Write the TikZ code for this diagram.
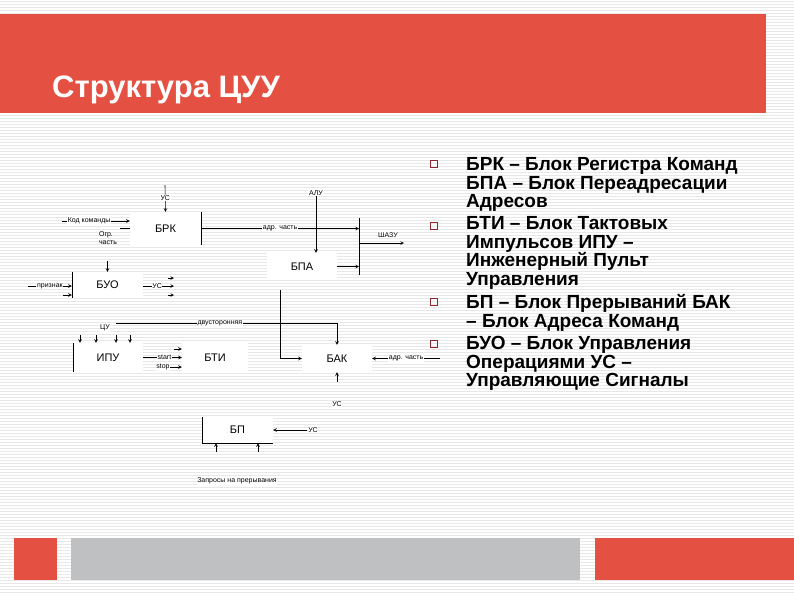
\documentclass[tikz,border=0pt]{standalone}
\usepackage{fontspec}
\setmainfont{Liberation Sans}
\usetikzlibrary{positioning}
\definecolor{slidered}{RGB}{228,80,66}
\definecolor{slidegray}{RGB}{190,192,194}
\definecolor{bulletred}{RGB}{140,40,50}
\tikzset{blk/.style={fill=white,inner sep=0pt,font=\fontsize{11}{11}\selectfont},
  lbl/.style={fill=white,inner sep=0.6pt,font=\fontsize{7}{7.5}\selectfont},
  sig/.style={->,line width=0.6pt},
  item/.style={anchor=base west,inner sep=0pt,font=\bfseries\fontsize{19}{19}\selectfont}}

\begin{document}
\begin{tikzpicture}[x=1pt,y=-1pt,>=stealth]
    \useasboundingbox (0,0) rectangle (794,595);
    % background with thin lines
    \fill[white] (0,0) rectangle (794,595);
    \foreach \y in {1.5,4.5,...,595}
        \draw[black!9,line width=0.4pt] (0,\y) -- (794,\y);

    % title band and footer
    \fill[slidered] (0,14) rectangle (766,113);
    \node[anchor=base west,inner sep=0pt,text=white,font=\bfseries\fontsize{31}{31}\selectfont] (title) at (52,97) {Структура ЦУУ};
    \fill[slidered] (14,538) rectangle (57,580);
    \fill[slidegray] (71,538) rectangle (580,580);
    \fill[slidered] (595,538) rectangle (794,580);

    % blocks
    \node[blk,minimum width=71pt,minimum height=33pt] (brk) at (165.5,228.5) {БРК};
    \node[blk,minimum width=70pt,minimum height=27pt] (bpa) at (302,266.5) {БПА};
    \node[blk,minimum width=71pt,minimum height=26pt] (buo) at (107.5,285) {БУО};
    \node[blk,minimum width=70pt,minimum height=29pt] (ipu) at (108,357.5) {ИПУ};
    \node[blk,minimum width=66pt,minimum height=29pt] (bti) at (215,357.5) {БТИ};
    \node[blk,minimum width=70pt,minimum height=27pt] (bak) at (337,358.5) {БАК};
    \node[blk,minimum width=71pt,minimum height=26pt] (bp) at (237.5,430) {БП};

    \draw[line width=0.6pt] (brk.north east) -- (brk.south east);
    \draw[line width=0.6pt] (buo.north west) -- (buo.south west);
    \draw[line width=0.6pt] (ipu.north west) -- (ipu.south west);
    \draw[line width=0.6pt] (bp.north west) -- (bp.south west) -- (bp.south east);

    % bus to ШАЗУ
    \coordinate (bust) at (359,218);
    \coordinate (busb) at (359,275);
    \draw[line width=0.8pt] (bust) -- (busb);
    \node[lbl] (shazu) at (388,235) {ШАЗУ};
    \coordinate (shz) at (404,243);
    \draw[sig] (bust |- shz) -- (shz);

    % БРК
    \coordinate (usbrk) at (165,185);
    \draw[sig] (usbrk) -- node[lbl]{УС} (brk.north);
    \coordinate (kk) at (62,221);
    \draw[sig] (kk) -- node[lbl,pos=0.4]{Код команды} (brk.west |- kk);
    \draw[line width=0.6pt] (brk.west) -- ++(-10,0);
    \node[lbl,align=left,fill=none] (ogr) at (108,238) {Огр.\\часть};
    \draw[sig] (brk.east) -- node[lbl]{адр. часть} (brk.east -| bust);

    % АЛУ, БПА
    \node[lbl] (alulbl) at (316,193) {АЛУ};
    \draw[sig] (alulbl) -- (alulbl |- bpa.north);
    \draw[sig] (bpa.east) -- (bpa.east -| bust);
    \coordinate (bpaout) at (280,290);
    \draw[sig] (bpaout) |- (bak.west);

    % БУО
    \coordinate (ogrin) at (107.5,261);
    \draw[sig] (ogrin) -- (buo.north);
    \coordinate (pr) at (28,286);
    \draw[sig] (pr) -- node[lbl]{признак} (buo.west |- pr);
    \coordinate (pr2) at (63,295);
    \draw[sig] (pr2) -- (buo.west |- pr2);
    \coordinate (uo1) at (174,278);
    \coordinate (uo2) at (174,286);
    \coordinate (uo3) at (174,295);
    \draw[sig] (buo.east |- uo2) -- node[lbl,pos=0.45]{УС} (uo2);
    \draw[sig] ([xshift=-6pt]uo1) -- (uo1);
    \draw[sig] ([xshift=-6pt]uo3) -- (uo3);

    % ИПУ
    \node[lbl] (cu) at (105,328) {ЦУ};
    \foreach \x in {80,96,116,130}
        \draw[sig] (\x,335) -- (\x,0 |- ipu.north);
    \coordinate (dv) at (116,323);
    \draw[sig] (dv) -- node[lbl,pos=0.47]{двусторонняя} (dv -| bak.north) -- (bak.north);
    \draw[sig] (ipu.east) -- node[lbl,pos=0.55]{start} (ipu.east -| bti.west);
    \coordinate (st0) at (174,349);
    \draw[sig] (st0) -- (st0 -| bti.west);
    \node[lbl] (stop) at (163,367) {stop};
    \draw[sig] (stop) -- (stop -| bti.west);

    % БАК
    \coordinate (ach) at (440,358.5);
    \draw[sig] (ach) -- node[lbl]{адр. часть} (bak.east);
    \node[lbl] (usbak) at (337,404) {УС};
    \coordinate (usb) at (337,382);
    \draw[sig] (usb) -- (bak.south);

    % БП
    \node[lbl] (usbp) at (313,430) {УС};
    \draw[sig] (usbp) -- (bp.east);
    \node[lbl] (zap) at (237,481) {Запросы на прерывания};
    \foreach \x in {216,258}
        \draw[sig] (\x,452) -- (\x,0 |- bp.south);

    % legend
    \foreach \y in {164,226,302,344}
        \draw[bulletred,line width=0.6pt] (430.5,\y-3.5) rectangle +(7,7);
    \foreach \y/\t [count=\i] in {170.5/{БРК – Блок Регистра Команд},189/{БПА – Блок Переадресации},207.5/{Адресов},
        229.5/{БТИ – Блок Тактовых},248/{Импульсов ИПУ –},266.5/{Инженерный Пульт},285/{Управления},
        308.5/{БП – Блок Прерываний БАК},327/{– Блок Адреса Команд},
        349.5/{БУО – Блок Управления},368/{Операциями УС –},386.5/{Управляющие Сигналы}}
        \node[item] (ln\i) at (466,\y) {\t};
\end{tikzpicture}
\end{document}
